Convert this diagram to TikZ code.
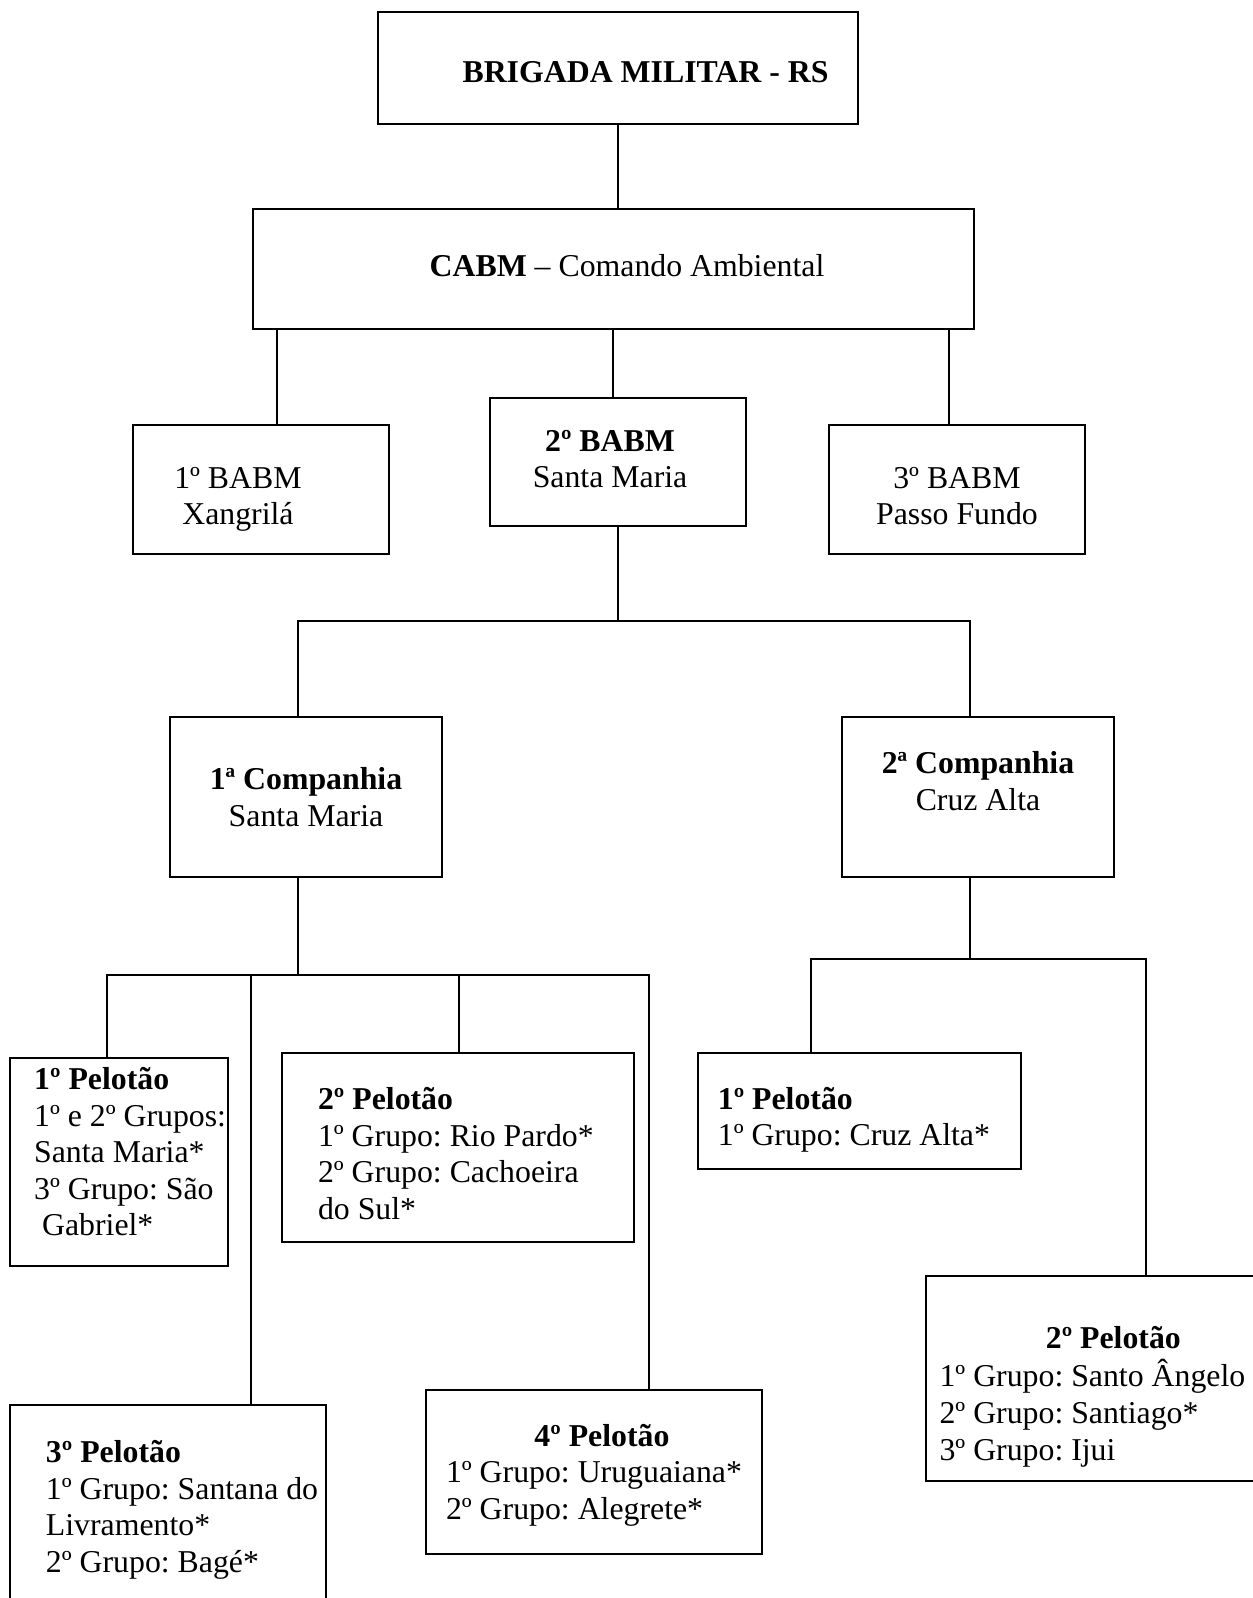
\documentclass[tikz,border=0pt]{standalone}
\usepackage{fontspec}
\setmainfont{Liberation Serif}
\usepackage{tikz}
\usetikzlibrary{positioning,calc}
\frenchspacing
\newcommand{\pxl}{0.3774pt}
\tikzstyle{orgbox}=[rectangle, draw, line width=0.75pt, inner sep=0pt, fill=white]
\tikzstyle{link}=[draw, line width=0.75pt]
% text block inside a box, moved by dx and dy
\newcommand{\boxtext}[4]{\hspace*{#1}\raisebox{#2}[\height][\depth]{\begin{tabular}{@{}#3@{}}#4\end{tabular}}\hspace*{-#1}}
\begin{document}
\begin{tikzpicture}[x=\pxl, y=-\pxl, every node/.style={font=\fontsize{12pt}{13.8pt}\selectfont\frenchspacing}]
\useasboundingbox (0,0) rectangle (1253,1598);
\fill[white] (0,0) rectangle (1253,1598);
\clip (0,0) rectangle (1253,1598);

\node[orgbox, minimum width=480*\pxl, minimum height=112*\pxl] (brig) at (618,68) {\boxtext{10.4pt}{-2.7pt}{c}{\textbf{BRIGADA MILITAR - RS}}};
\node[orgbox, minimum width=721*\pxl, minimum height=120*\pxl] (cabm) at (613.5,269) {\boxtext{5.1pt}{0pt}{c}{\textbf{CABM} – Comando Ambiental}};
\node[orgbox, minimum width=256*\pxl, minimum height=129*\pxl] (babm1) at (261,489.5) {\boxtext{-8.7pt}{-3.7pt}{c}{1º BABM\\Xangrilá}};
\node[orgbox, minimum width=256*\pxl, minimum height=128*\pxl] (babm2) at (618,462) {\boxtext{-3pt}{0pt}{c}{\textbf{2º BABM}\\Santa Maria}};
\node[orgbox, minimum width=256*\pxl, minimum height=129*\pxl] (babm3) at (957,489.5) {\boxtext{0pt}{-3.7pt}{c}{3º BABM\\Passo Fundo}};
\node[orgbox, minimum width=272*\pxl, minimum height=160*\pxl] (cia1) at (306,797) {\boxtext{0pt}{-1.4pt}{c}{\textbf{1ª Companhia}\\Santa Maria}};
\node[orgbox, minimum width=272*\pxl, minimum height=160*\pxl] (cia2) at (978,797) {\boxtext{0pt}{4.6pt}{c}{\textbf{2ª Companhia}\\Cruz Alta}};

\node[orgbox, minimum width=218*\pxl, minimum height=208*\pxl] (pel1) at (119,1162) {\boxtext{4.2pt}{2.5pt}{l}{\textbf{1º Pelotão}\\1º e 2º Grupos:\\Santa Maria*\\3º Grupo: São\\\ Gabriel*}};
\node[orgbox, minimum width=352*\pxl, minimum height=189*\pxl] (pel2) at (458,1147.5) {\boxtext{-0.8pt}{-3.7pt}{l}{\textbf{2º Pelotão}\\1º Grupo: Rio Pardo*\\2º Grupo: Cachoeira\\do Sul*}};
\node[orgbox, minimum width=316*\pxl, minimum height=210*\pxl] (pel3) at (168,1510) {\boxtext{5.3pt}{0pt}{l}{\textbf{3º Pelotão}\\1º Grupo: Santana do\\Livramento*\\2º Grupo: Bagé*}};
\node[orgbox, minimum width=336*\pxl, minimum height=164*\pxl] (pel4) at (594,1472) {\boxtext{0pt}{-1.3pt}{l}{\multicolumn{1}{@{}c@{}}{\hspace*{6pt}\textbf{4º Pelotão}}\\1º Grupo: Uruguaiana*\\2º Grupo: Alegrete*}};
\node[orgbox, minimum width=323*\pxl, minimum height=116*\pxl] (cpel1) at (859.5,1111) {\boxtext{-2.1pt}{-3.5pt}{l}{\textbf{1º Pelotão}\\1º Grupo: Cruz Alta*}};
\node[orgbox, minimum width=380*\pxl, minimum height=205*\pxl] (cpel2) at (1116,1378.5) {\boxtext{-8.9pt}{-7pt}{l}{\multicolumn{1}{@{}c@{}}{\hspace*{15.8pt}\textbf{2º Pelotão}}\\1º Grupo: Santo Ângelo\\2º Grupo: Santiago*\\3º Grupo: Ijui}};

% connectors
\draw[link] (brig.south) -- (brig.south |- cabm.north);
\coordinate (b1) at ($(babm1.north)+(16,0)$);
\coordinate (b2) at ($(babm2.north)+(-5,0)$);
\coordinate (b3) at ($(babm3.north)+(-8,0)$);
\draw[link] (b1) -- (b1 |- cabm.south);
\draw[link] (b2) -- (b2 |- cabm.south);
\draw[link] (b3) -- (b3 |- cabm.south);

\coordinate (bus1) at ($(babm2.south)+(0,94)$);
\coordinate (k1) at ($(cia1.north)+(-8,0)$);
\coordinate (k2) at ($(cia2.north)+(-8,0)$);
\draw[link] (babm2.south) -- (bus1);
\draw[link] (k1) |- (bus1) -| (k2);

\coordinate (s1) at ($(cia1.south)+(-8,0)$);
\coordinate (bus2) at ($(s1)+(0,97)$);
\coordinate (d1) at ($(pel1.north)+(-12,0)$);
\coordinate (d2) at ($(pel2.north)+(1,0)$);
\coordinate (d3) at ($(pel3.north)+(83,0)$);
\coordinate (d4) at ($(pel4.north)+(55,0)$);
\draw[link] (s1) -- (bus2);
\draw[link] (d1) |- (bus2) -| (d4);
\draw[link] (d2) -- (d2 |- bus2);
\draw[link] (d3) -- (d3 |- bus2);

\coordinate (s2) at ($(cia2.south)+(-8,0)$);
\coordinate (bus3) at ($(s2)+(0,81)$);
\coordinate (e1) at ($(cpel1.north)+(-48.5,0)$);
\coordinate (e2) at ($(cpel2.north)+(30,0)$);
\draw[link] (s2) -- (bus3);
\draw[link] (e1) |- (bus3) -| (e2);
\end{tikzpicture}
\end{document}
